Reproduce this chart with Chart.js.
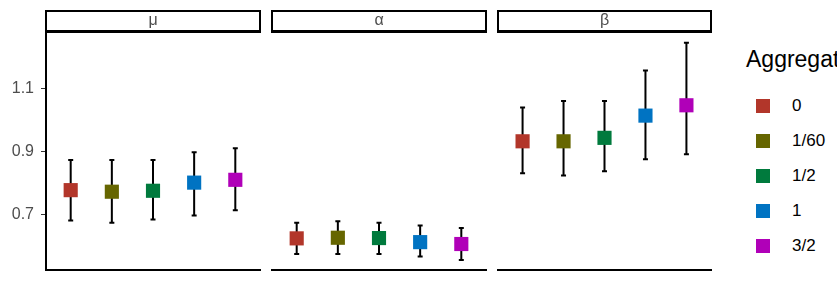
<!DOCTYPE html>
<html>
<head>
<meta charset="utf-8">
<script src="https://cdn.jsdelivr.net/npm/chart.js@4"></script>
<style>
  html, body { margin: 0; padding: 0; background: #fff; }
  body { width: 837px; height: 288px; position: relative; overflow: hidden; font-family: "Liberation Sans", Arial, sans-serif; }
  canvas { position: absolute; top: 0; }
  #legend { position: absolute; left: 746px; top: 0; white-space: nowrap; }
  #legend .title { position: absolute; left: 0; top: 46px; font-size: 23px; color: #000; }
  #legend .item { position: absolute; left: 10px; height: 20px; display: flex; align-items: center; font-size: 17px; color: #000; }
  #legend .sw { width: 14px; height: 14px; margin-right: 22px; }
</style>
</head>
<body>
<canvas id="c-mu" width="262" height="288" style="left:0px"></canvas>
<canvas id="c-alpha" width="218" height="288" style="left:270px"></canvas>
<canvas id="c-beta" width="217" height="288" style="left:496px"></canvas>
<div id="legend"></div>
<script>
// categories and values
const groups = ['0', '1/60', '1/2', '1', '3/2'];
const facets = ['μ', 'α', 'β'];
const legendTitle = 'Aggregation';
const yTicks = [0.7, 0.9, 1.1];

const muEst = [0.777, 0.772, 0.775, 0.801, 0.810];
const muLow = [0.680, 0.673, 0.683, 0.696, 0.713];
const muHigh = [0.873, 0.873, 0.873, 0.898, 0.911];

const alphaEst = [0.623, 0.625, 0.624, 0.611, 0.605];
const alphaLow = [0.573, 0.573, 0.573, 0.565, 0.554];
const alphaHigh = [0.673, 0.678, 0.673, 0.664, 0.656];

const betaEst = [0.933, 0.933, 0.944, 1.015, 1.048];
const betaLow = [0.831, 0.824, 0.837, 0.876, 0.892];
const betaHigh = [1.041, 1.062, 1.062, 1.159, 1.248];

const palette = ['#B2362A', '#666600', '#007A3D', '#0073C2', '#B000B8'];

const FONT = '"Liberation Sans", Arial, sans-serif';

// error bars drawn under the points, via the chart's own scales
const errorBarPlugin = {
  id: 'errorBars',
  beforeDatasetsDraw(chart, args, opts) {
    const { ctx, scales: { x, y } } = chart;
    ctx.save();
    ctx.strokeStyle = '#000';
    ctx.lineWidth = 2;
    opts.low.forEach((lo, i) => {
      const px = x.getPixelForValue(i + 1);
      const yLo = y.getPixelForValue(lo);
      const yHi = y.getPixelForValue(opts.high[i]);
      ctx.beginPath();
      ctx.moveTo(px, yLo); ctx.lineTo(px, yHi);
      ctx.moveTo(px - 2.5, yLo); ctx.lineTo(px + 2.5, yLo);
      ctx.moveTo(px - 2.5, yHi); ctx.lineTo(px + 2.5, yHi);
      ctx.stroke();
    });
    ctx.restore();
  }
};

// facet strip above each panel
const stripPlugin = {
  id: 'strip',
  afterDraw(chart, args, opts) {
    const { ctx, chartArea: a } = chart;
    ctx.save();
    ctx.fillStyle = '#fff';
    ctx.fillRect(a.left, 11, a.right - a.left, 21);
    ctx.strokeStyle = '#000';
    ctx.lineWidth = 2;
    ctx.strokeRect(a.left, 11, a.right - a.left, 21);
    ctx.beginPath();
    ctx.lineWidth = 3;
    ctx.moveTo(a.left - 1, 31.5); ctx.lineTo(a.right + 1, 31.5);
    ctx.stroke();
    ctx.fillStyle = '#4D4D4D';
    ctx.font = '16px ' + FONT;
    ctx.textAlign = 'center';
    ctx.textBaseline = 'middle';
    ctx.fillText(opts.label, (a.left + a.right) / 2, 21);
    ctx.restore();
  }
};

function makePanel(id, label, est, low, high, showY, padLeft) {
  new Chart(document.getElementById(id), {
    type: 'scatter',
    data: {
      datasets: groups.map((g, i) => ({
        label: g,
        data: [{ x: i + 1, y: est[i] }],
        backgroundColor: palette[i],
        borderWidth: 0,
        pointStyle: 'rect',
        pointRadius: 10,
        pointHoverRadius: 10
      }))
    },
    options: {
      responsive: false,
      animation: false,
      events: [],
      layout: { autoPadding: false, padding: { top: 32, left: padLeft, right: 2, bottom: 0 } },
      plugins: {
        legend: { display: false },
        tooltip: { enabled: false },
        errorBars: { low, high },
        strip: { label }
      },
      scales: {
        x: {
          type: 'linear', min: 0.4, max: 5.6,
          grid: { display: false, drawTicks: false },
          ticks: { display: false },
          border: { display: true, color: '#000', width: 2 },
          afterFit: (s) => { s.height = 18; }
        },
        y: {
          type: 'linear', min: 0.522, max: 1.282,
          display: showY,
          afterBuildTicks: (s) => { s.ticks = yTicks.map((v) => ({ value: v })); },
          afterFit: (s) => { s.width = showY ? 46 : 0; },
          grid: { drawOnChartArea: false, drawTicks: true, tickLength: 5, color: '#333' },
          border: { display: true, color: '#000', width: 2 },
          ticks: {
            color: '#4D4D4D', padding: 7,
            font: { size: 16, family: FONT },
            callback: (v) => Number(v).toFixed(1)
          }
        }
      }
    },
    plugins: [errorBarPlugin, stripPlugin]
  });
}

makePanel('c-mu', facets[0], muEst, muLow, muHigh, true, 0);
makePanel('c-alpha', facets[1], alphaEst, alphaLow, alphaHigh, false, 2);
makePanel('c-beta', facets[2], betaEst, betaLow, betaHigh, false, 2);

// legend
const legend = document.getElementById('legend');
legend.innerHTML = `<div class="title">${legendTitle}</div>` +
  groups.map((g, i) => `<div class="item" style="top:${96 + i * 35}px"><div class="sw" style="background:${palette[i]}"></div>${g}</div>`).join('');
</script>
</body>
</html>
